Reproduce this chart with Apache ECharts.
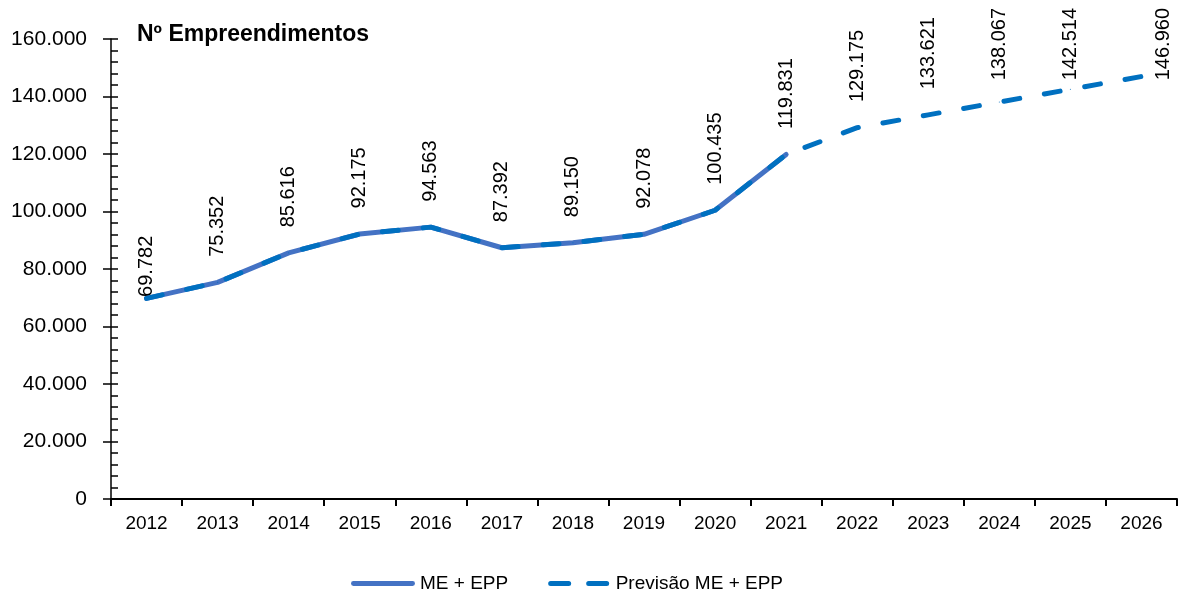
<!DOCTYPE html>
<html>
<head>
<meta charset="utf-8">
<script src="https://cdn.jsdelivr.net/npm/echarts@6/dist/echarts.min.js"></script>
<style>
html,body{margin:0;padding:0;background:#fff;}
#chart{width:1179px;height:599px;}
</style>
</head>
<body>
<div id="chart"></div>
<script>
const categories = ['2012','2013','2014','2015','2016','2017','2018','2019','2020','2021','2022','2023','2024','2025','2026'];
const historico = [69782, 75352, 85616, 92175, 94563, 87392, 89150, 92078, 100435, 119831];
const previsao = [69782, 75352, 85616, 92175, 94563, 87392, 89150, 92078, 100435, 119831, 129175, 133621, 138067, 142514, 146960];
const seriesNames = ['ME + EPP', 'Previsão ME + EPP'];
const titleText = 'Nº Empreendimentos';

const FONT = '"Liberation Sans", Arial, sans-serif';
const fmt = v => {
  const s = String(Math.round(v));
  return s.replace(/\B(?=(\d{3})+(?!\d))/g, '.');
};
const nHist = historico.length;

const labelBase = {
  show: true, position: 'top', rotate: 90, align: 'left', verticalAlign: 'middle',
  distance: 25, color: '#000', fontFamily: FONT, fontSize: 20,
  formatter: p => fmt(p.value)
};

// keep labels inside the chart top edge (like the spreadsheet does); if clamping
// would push a label onto its point, move it to the right of the point instead.
// dx/dy act in the label's rotated frame (text runs upward): dx<0 moves down, dy>0 moves right.
const TOP_LIMIT = 8;
function clampLabel(p) {
  const r = p.labelRect;
  if (!r || r.y >= TOP_LIMIT) return {};
  const down = TOP_LIMIT - r.y;
  const newBottom = r.y + r.height + down;
  const cy = p.rect.y + p.rect.height / 2;
  const res = { dx: -down };
  if (newBottom > cy - 4) res.dy = 22;
  return res;
}

const histData = historico.map((v, i) => i === 0 ? { value: v, label: { distance: 1 } } : v);
const prevData = previsao.map((v, i) => i >= nHist ? v : { value: v, label: { show: false } });

const chart = echarts.init(document.getElementById('chart'), null, { renderer: 'canvas' });
chart.setOption({
  animation: false,
  backgroundColor: '#fff',
  title: {
    text: titleText, left: 132, top: 18,
    textStyle: { fontFamily: FONT, fontSize: 23, fontWeight: 'bold', color: '#000' }
  },
  legend: {
    top: 569, left: 346, itemWidth: 64, itemHeight: 5, itemGap: 40,
    textStyle: { fontFamily: FONT, fontSize: 19, color: '#000' },
    data: [
      { name: seriesNames[0], icon: 'path://M2,0h60a2,2 0 0 1 0,5h-60a2,2 0 0 1 0,-5z' },
      { name: seriesNames[1], icon: 'path://M2,0h18a2,2 0 0 1 0,5h-18a2,2 0 0 1 0,-5z M40,0h18a2,2 0 0 1 0,5h-18a2,2 0 0 1 0,-5z' }
    ]
  },
  grid: { left: 111, right: 2, top: 39, bottom: 100, containLabel: false, outerBoundsMode: 'none' },
  xAxis: {
    type: 'category', data: categories, boundaryGap: true,
    axisLine: { lineStyle: { color: '#000', width: 2 } },
    axisTick: { show: true, length: 7, lineStyle: { color: '#000', width: 2 } },
    axisLabel: { color: '#000', fontFamily: FONT, fontSize: 19, margin: 15 }
  },
  yAxis: [{
    type: 'value', min: 0, max: 160000, interval: 20000,
    axisLine: { show: true, lineStyle: { color: '#000', width: 1.5 } },
    axisTick: { show: true, inside: true, length: 7, lineStyle: { color: '#000', width: 1.5 } },
    minorTick: { show: true, splitNumber: 5, length: 7, lineStyle: { color: '#000', width: 1.5 } },
    splitLine: { show: false },
    axisLabel: { color: '#000', fontFamily: FONT, fontSize: 21, margin: 24, formatter: fmt }
  }, {
    type: 'value', min: 0, max: 160000, interval: 20000, position: 'left',
    axisLine: { show: false },
    axisTick: { show: true, inside: false, length: 8, lineStyle: { color: '#000', width: 1.5 } },
    splitLine: { show: false },
    axisLabel: { show: false }
  }],
  series: [{
    name: seriesNames[0], type: 'line', data: histData, yAxisIndex: 0,
    symbol: 'circle', symbolSize: 1, showSymbol: true, z: 2,
    lineStyle: { color: '#4472C4', width: 5, cap: 'round', join: 'round' },
    itemStyle: { color: '#4472C4' },
    label: labelBase,
    labelLayout: clampLabel
  }, {
    name: seriesNames[1], type: 'line', data: prevData, yAxisIndex: 0,
    symbol: 'circle', symbolSize: 1, showSymbol: true, z: 3,
    lineStyle: { color: '#0070C0', width: 5, type: [16, 25], cap: 'round', join: 'round' },
    itemStyle: { color: '#0070C0' },
    label: labelBase,
    labelLayout: clampLabel
  }]
});
</script>
</body>
</html>
